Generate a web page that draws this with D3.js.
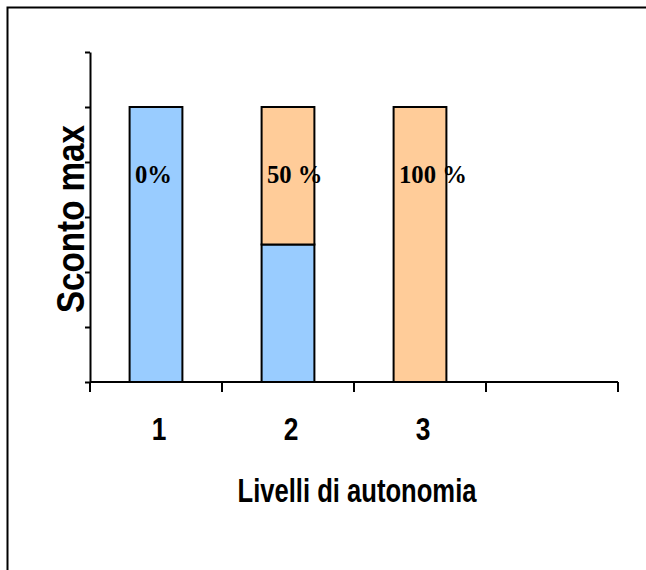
<!DOCTYPE html>
<html>
<head>
<meta charset="utf-8">
<script src="https://cdn.jsdelivr.net/npm/d3@7"></script>
<style>
  html, body { margin: 0; padding: 0; background: #fff; }
  svg { display: block; }
</style>
</head>
<body>
<svg id="chart" width="646" height="570"></svg>
<script>
// Autonomy levels (the fourth slot is left empty on the axis)
const categories = ["1", "2", "3", ""];
// Maximum discount (bar height) for each level
const maxDiscount = [5, 5, 5, 0];
// Share of the bar given to the discounted part, in percent
const discountShare = [0, 50, 100, 0];
// Text shown on each bar
const shareLabels = ["0%", "50 %", "100 %", ""];
// Y axis tick values (unlabelled)
const yTicks = [0, 1, 2, 3, 4, 5, 6];

const baseColor = "#99CCFF";
const discountColor = "#FFCC99";

const svg = d3.select("#chart");

// Outer frame (only its top and left edges fall inside the view)
svg.append("rect")
  .attr("x", 7.5).attr("y", 7.5)
  .attr("width", 700).attr("height", 700)
  .attr("fill", "none").attr("stroke", "#000").attr("stroke-width", 2);

const x = d3.scaleBand().domain(categories).range([90, 618]).paddingInner(0).paddingOuter(0);
const y = d3.scaleLinear().domain([0, 6]).range([382, 52]);

const barW = x.bandwidth() * 0.4;

const rows = categories.map((c, i) => {
  const top = maxDiscount[i] * discountShare[i] / 100;
  return { c, base: maxDiscount[i] - top, top, total: maxDiscount[i], label: shareLabels[i] };
}).filter(d => d.total > 0);

const g = svg.append("g");

// Lower segment
g.selectAll("rect.base").data(rows.filter(d => d.base > 0)).join("rect")
  .attr("class", "base")
  .attr("x", d => x(d.c) + (x.bandwidth() - barW) / 2)
  .attr("width", barW)
  .attr("y", d => y(d.base))
  .attr("height", d => y(0) - y(d.base))
  .attr("fill", baseColor).attr("stroke", "#000").attr("stroke-width", 2);

// Upper (discounted) segment
g.selectAll("rect.top").data(rows.filter(d => d.top > 0)).join("rect")
  .attr("class", "top")
  .attr("x", d => x(d.c) + (x.bandwidth() - barW) / 2)
  .attr("width", barW)
  .attr("y", d => y(d.base + d.top))
  .attr("height", d => y(d.base) - y(d.base + d.top))
  .attr("fill", discountColor).attr("stroke", "#000").attr("stroke-width", 2);

// Percentage labels
g.selectAll("text.share").data(rows).join("text")
  .attr("class", "share")
  .attr("transform", d => `translate(${x(d.c) + x.bandwidth() / 2 - 21},${y(d.total) + 76}) scale(0.95,1)`)
  .attr("font-family", "'Liberation Serif', 'Times New Roman', serif")
  .attr("font-weight", "bold")
  .attr("font-size", 26)
  .attr("fill", "#000")
  .text(d => d.label);

// Y axis
const yAxis = svg.append("g")
  .attr("transform", "translate(90,0)")
  .call(d3.axisLeft(y).tickValues(yTicks).tickFormat("").tickSize(5).tickSizeOuter(0));
yAxis.select(".domain").attr("stroke", "#000").attr("stroke-width", 2);
yAxis.selectAll(".tick line").attr("stroke", "#000").attr("stroke-width", 2);

// X axis: baseline plus ticks at the band edges
const xAxisG = svg.append("g");
xAxisG.append("line")
  .attr("x1", x.range()[0]).attr("x2", x.range()[1])
  .attr("y1", y(0)).attr("y2", y(0))
  .attr("stroke", "#000").attr("stroke-width", 2);
const edges = categories.map(c => x(c)).concat([x.range()[1]]);
xAxisG.selectAll("line.xt").data(edges).join("line")
  .attr("class", "xt")
  .attr("x1", d => d).attr("x2", d => d)
  .attr("y1", y(0)).attr("y2", y(0) + 10)
  .attr("stroke", "#000").attr("stroke-width", 2);

const sans = "'Liberation Sans', Arial, sans-serif";

// Category labels
xAxisG.selectAll("text.cat").data(categories.filter(c => c !== "")).join("text")
  .attr("class", "cat")
  .attr("text-anchor", "middle")
  .attr("font-family", sans).attr("font-weight", "bold")
  .attr("font-size", 31)
  .attr("transform", c => `translate(${x(c) + x.bandwidth() / 2 + 3},440) scale(0.85,1)`)
  .text(c => c);

// Axis titles
svg.append("text")
  .attr("x", 357).attr("y", 502)
  .attr("text-anchor", "middle")
  .attr("font-family", sans).attr("font-weight", "bold")
  .attr("font-size", 33)
  .attr("textLength", 239).attr("lengthAdjust", "spacingAndGlyphs")
  .text("Livelli di autonomia");

svg.append("text")
  .attr("transform", "translate(84,219) rotate(-90)")
  .attr("text-anchor", "middle")
  .attr("font-family", sans).attr("font-weight", "bold")
  .attr("font-size", 38)
  .attr("textLength", 188).attr("lengthAdjust", "spacingAndGlyphs")
  .text("Sconto max");
</script>
</body>
</html>
